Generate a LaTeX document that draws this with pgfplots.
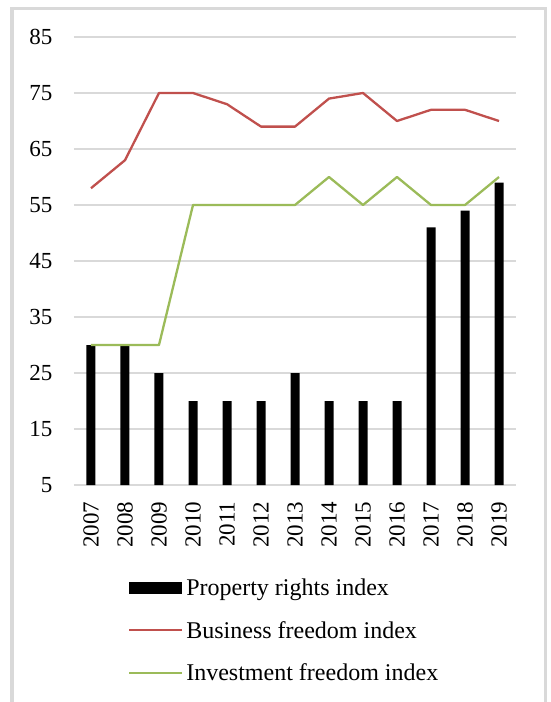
\documentclass[border=0pt]{standalone}
\usepackage{pgfplots}
\pgfplotsset{compat=1.18}
\usepackage{fontspec}
\setmainfont{Liberation Serif}

\definecolor{cRed}{HTML}{C0504D}
\definecolor{cGreen}{HTML}{9BBB59}
\definecolor{cGrid}{HTML}{D9D9D9}

\begin{document}
\begin{tikzpicture}
\begin{axis}[
    scale only axis,
    width=442pt, height=448pt,
    xmin=-0.5, xmax=12.5,
    ymin=5, ymax=85,
    ytick={5,15,...,85},
    xtick={0,...,12},
    xticklabels={2007,2008,2009,2010,2011,2012,2013,2014,2015,2016,2017,2018,2019},
    /pgf/number format/assume math mode=true,
    tick label style={font=\fontsize{23}{27}\selectfont},
    xticklabel style={rotate=90, anchor=east, xshift=-13pt},
    yticklabel style={xshift=-18pt},
    ymajorgrids,
    major grid style={draw=cGrid, line width=1.5pt},
    axis line style={draw=none},
    tick style={draw=none},
    legend cell align=left,
    legend style={draw=none, fill=none, at={(0.115,-0.197)}, anchor=north west,
        font=\fontsize{24}{28}\selectfont, row sep=18.5pt,
        nodes={inner sep=3pt}},
]
\addplot[ybar, bar width=9pt, fill=black, draw=none,
    legend image code/.code={\fill[black] (0pt,-6pt) rectangle (53pt,6pt);}]
    coordinates {(0,30) (1,30) (2,25) (3,20) (4,20) (5,20) (6,25) (7,20) (8,20) (9,20) (10,51) (11,54) (12,59)};
\addlegendentry{Property rights index}

\addplot[color=cRed, line width=2.3pt, line join=round, mark=none,
    legend image code/.code={\draw[cRed, line width=2.3pt] (0pt,0pt) -- (53pt,0pt);}]
    coordinates {(0,58) (1,63) (2,75) (3,75) (4,73) (5,69) (6,69) (7,74) (8,75) (9,70) (10,72) (11,72) (12,70)};
\addlegendentry{Business freedom index}

\addplot[color=cGreen, line width=2.3pt, line join=round, mark=none,
    legend image code/.code={\draw[cGreen, line width=2.3pt] (0pt,0pt) -- (53pt,0pt);}]
    coordinates {(0,30) (1,30) (2,30) (3,55) (4,55) (5,55) (6,55) (7,60) (8,55) (9,60) (10,55) (11,55) (12,60)};
\addlegendentry{Investment freedom index}
\end{axis}
\draw[cGrid, line width=3.5pt] (-62pt,-240pt) rectangle (471.5pt,476.5pt);
\pgfresetboundingbox
\useasboundingbox (-74pt,-217pt) rectangle (477pt,485pt);
\end{tikzpicture}
\end{document}
